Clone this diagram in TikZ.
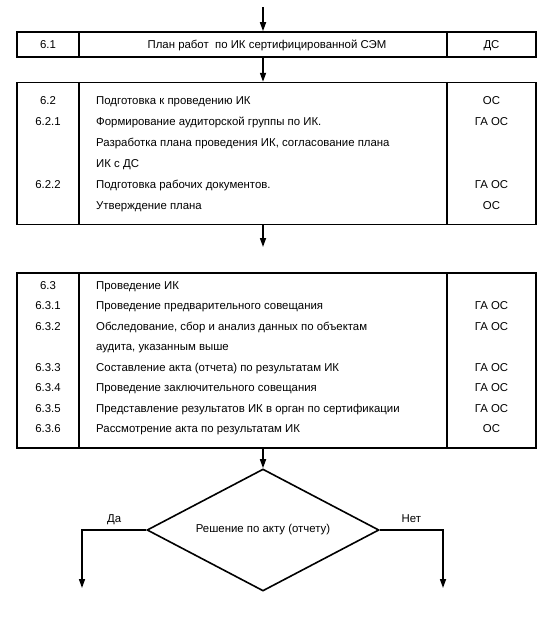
\documentclass[tikz,border=0pt]{standalone}
\usepackage{fontspec}
\setmainfont{Liberation Sans}
\usetikzlibrary{arrows.meta,positioning,shapes.geometric}

\begin{document}
\begin{tikzpicture}[x=1pt,y=1pt,
        blk/.style={draw,line width=1.6pt,minimum width=519pt,inner sep=0pt},
        txt/.style={font=\fontsize{11.4}{13}\selectfont,inner sep=0pt,text height=8pt,text depth=2.4pt},
        dm/.style={draw,diamond,aspect=2,line width=1.6pt,minimum width=232pt,minimum height=122pt,inner sep=0pt,
          font=\fontsize{11.4}{13}\selectfont},
        arr/.style={-{Triangle[length=9pt,width=6pt]},line width=1.6pt}]
        \useasboundingbox (0,0) rectangle (546,-632);
        \coordinate (in) at (263,-7);
        \coordinate (out) at (263,-247);
        % boxes
        \node[blk,minimum height=25pt](b1) at (276.5,-44.5){};
        \node[blk,minimum height=142pt,below=24pt of b1](b2){};
        \node[blk,minimum height=175pt,below=47pt of b2](b3){};
        \foreach \b in {b1,b2,b3}{
          \draw[line width=1.6pt] (79,0 |- \b.north) -- (79,0 |- \b.south);
          \draw[line width=1.6pt] (447,0 |- \b.north) -- (447,0 |- \b.south);
        }
        % 6.1
        \node[txt](n1) at (48,-45.5){6.1};
        \node[txt](t1) at (267,-45.5){План работ \ по ИК сертифицированной СЭМ};
        \node[txt](r1) at (491.5,-45.5){ДС};
        % 6.2
        \foreach \y/\n/\t/\r [count=\i] in {
            101.5/6.2/{Подготовка к проведению ИК}/ОС,
            122.5/6.2.1/{Формирование аудиторской группы по ИК.}/ГА ОС,
            143.5/{}/{Разработка плана проведения ИК, согласование плана}/{},
            164.5/{}/{ИК с ДС}/{},
            185.5/6.2.2/{Подготовка рабочих документов.}/ГА ОС,
            206.5/{}/{Утверждение плана}/ОС}{
          \node[txt](n2-\i) at (48,-\y){\n};
          \node[txt,anchor=west](t2-\i) at (96,-\y){\t};
          \node[txt](r2-\i) at (491.5,-\y){\r};
        }
        % 6.3
        \foreach \y/\n/\t/\r [count=\i] in {
            286.5/6.3/{Проведение ИК}/{},
            307/6.3.1/{Проведение предварительного совещания}/ГА ОС,
            327.5/6.3.2/{Обследование, сбор и анализ данных по объектам}/ГА ОС,
            348/{}/{аудита, указанным выше}/{},
            368.5/6.3.3/{Составление акта (отчета) по результатам ИК}/ГА ОС,
            389/6.3.4/{Проведение заключительного совещания}/ГА ОС,
            409.5/6.3.5/{Представление результатов ИК в орган по сертификации}/ГА ОС,
            430/6.3.6/{Рассмотрение акта по результатам ИК}/ОС}{
          \node[txt](n3-\i) at (48,-\y){\n};
          \node[txt,anchor=west](t3-\i) at (96,-\y){\t};
          \node[txt](r3-\i) at (491.5,-\y){\r};
        }
        % decision
        \node[dm](d) at (263,-530){\raisebox{-1.5pt}{Решение по акту (отчету)}};
        \coordinate (yes) at (82,-588);
        \coordinate (no) at (443,-588);
        \draw[arr](in)--(in |- b1.north);
        \draw[arr](b1.south -| in)--(b2.north -| in);
        \draw[arr](b2.south -| in)--(out);
        \draw[arr](b3.south -| in)--(d.north);
        \draw[arr](d.west)-|node[txt,pos=0.25,above=4pt]{Да}(yes);
        \draw[arr](d.east)-|node[txt,pos=0.25,above=4pt]{Нет}(no);
      \end{tikzpicture}
\end{document}
